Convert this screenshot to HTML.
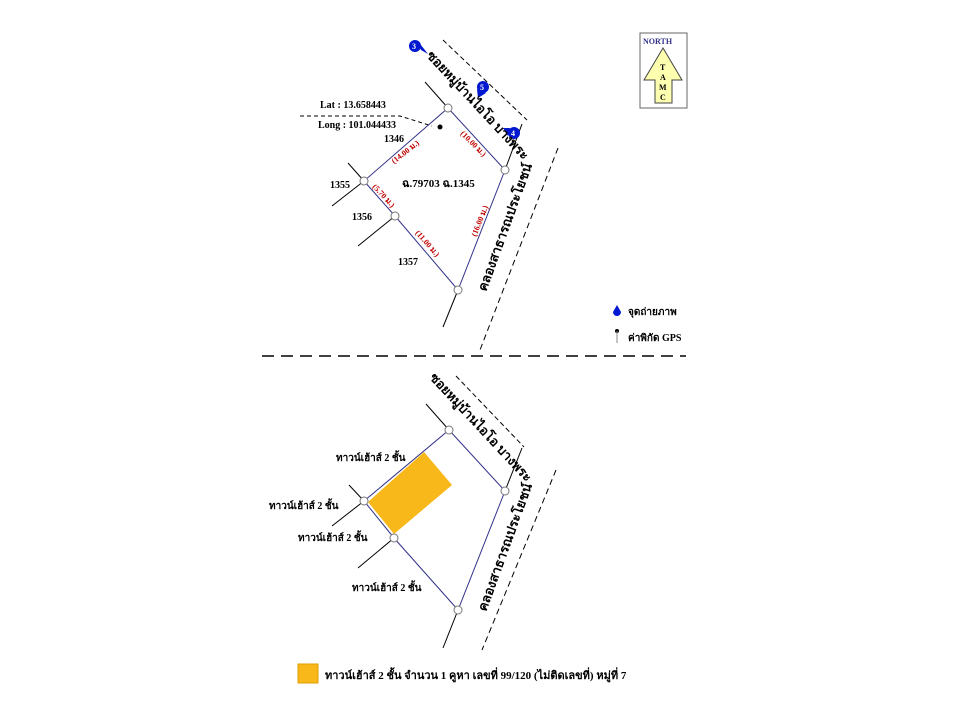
<!DOCTYPE html><html><head><meta charset="utf-8"><style>body{margin:0;background:#fff}svg{display:block}text{font-family:"Liberation Serif","Noto Serif CJK SC","Noto Sans CJK SC",serif;font-weight:bold}</style></head><body>
<svg width="960" height="720" viewBox="0 0 960 720">
<g stroke="#000" stroke-width="1" fill="none">
<line x1="425" y1="82" x2="448" y2="108"/>
<line x1="364" y1="181" x2="348" y2="163"/><line x1="364" y1="181" x2="332" y2="206"/>
<line x1="395" y1="216" x2="358" y2="246"/>
<line x1="458" y1="290" x2="443" y2="327"/>
<line x1="505" y1="170" x2="522" y2="124"/>
<line x1="443" y1="40" x2="527" y2="120" stroke-dasharray="5,3"/>
<line x1="558" y1="148" x2="480" y2="350" stroke-dasharray="6,4"/>
<polyline points="300,116 400,116 432,126" stroke-dasharray="4,3"/>
<line x1="262" y1="356" x2="686" y2="356" stroke-dasharray="12,7" stroke-width="1.5"/>
<line x1="426" y1="404" x2="449" y2="430"/>
<line x1="364" y1="501" x2="349" y2="485"/><line x1="364" y1="501" x2="332" y2="526"/>
<line x1="394" y1="538" x2="358" y2="568"/>
<line x1="458" y1="610" x2="443" y2="648"/>
<line x1="505" y1="491" x2="522" y2="448"/>
<line x1="456" y1="376" x2="524" y2="447" stroke-dasharray="5,3"/>
<line x1="556" y1="470" x2="482" y2="650" stroke-dasharray="6,4"/>
</g>
<g stroke="#33338a" stroke-width="1" fill="none">
<polygon points="448,108 505,170 458,290 395,216 364,181"/>
<polygon points="449,430 505,491 458,610 394,538 364,501"/>
</g>
<polygon points="424,452 452,485 394,534 368,502" fill="#f9b81a"/>
<g fill="#fff" stroke="#777">
<circle cx="448" cy="108" r="4"/><circle cx="505" cy="170" r="4"/><circle cx="458" cy="290" r="4"/><circle cx="395" cy="216" r="4"/><circle cx="364" cy="181" r="4"/>
<circle cx="449" cy="430" r="4"/><circle cx="505" cy="491" r="4"/><circle cx="458" cy="610" r="4"/><circle cx="394" cy="538" r="4"/><circle cx="364" cy="501" r="4"/>
</g>
<circle cx="440" cy="127" r="2.5" fill="#000"/>
<g fill="#0018d0">
<circle cx="415" cy="46" r="6"/><polygon points="417,40 421,50 428,54"/>
<circle cx="483" cy="87" r="6"/><polygon points="477,89 486,93 478,98"/>
<circle cx="514" cy="133" r="6"/><polygon points="510,128 503,128 508,136"/>
</g>
<g fill="#fff" font-size="8"><text x="412" y="49">3</text><text x="480" y="90">5</text><text x="511" y="136">4</text></g>
<g font-size="10" fill="#000">
<text x="320" y="108">Lat :  13.658443</text>
<text x="318" y="128">Long : 101.044433</text>
<text x="384" y="142">1346</text><text x="330" y="188">1355</text><text x="352" y="220">1356</text><text x="398" y="265">1357</text>
<text x="402" y="187" font-size="11">ฉ.79703 ฉ.1345</text>
<text transform="translate(426,56) rotate(47)" font-size="13">ซอยหมู่บ้านไอโอ บางพระ</text>
<text transform="translate(486,292) rotate(-70)" font-size="13">คลองสาธารณประโยชน์</text>
<text transform="translate(429,378) rotate(47)" font-size="13">ซอยหมู่บ้านไอโอ บางพระ</text>
<text transform="translate(486,612) rotate(-70)" font-size="13">คลองสาธารณประโยชน์</text>
<text x="336" y="461">ทาวน์เฮ้าส์ 2 ชั้น</text>
<text x="269" y="509">ทาวน์เฮ้าส์ 2 ชั้น</text>
<text x="298" y="541">ทาวน์เฮ้าส์ 2 ชั้น</text>
<text x="352" y="591">ทาวน์เฮ้าส์ 2 ชั้น</text>
<text x="628" y="315">จุดถ่ายภาพ</text><text x="628" y="341">ค่าพิกัด GPS</text>
<text x="325" y="679" font-size="11">ทาวน์เฮ้าส์  2  ชั้น จำนวน 1 คูหา  เลขที่ 99/120 (ไม่ติดเลขที่) หมู่ที่ 7</text>
</g>
<g font-size="8" fill="#c00000">
<text transform="translate(394,164) rotate(-38)">(14.00 ม.)</text>
<text transform="translate(460,134) rotate(45)">(10.00 ม.)</text>
<text transform="translate(372,187) rotate(47)">(5.70 ม.)</text>
<text transform="translate(415,233) rotate(49)">(11.00 ม.)</text>
<text transform="translate(476,237) rotate(-68)">(16.00 ม.)</text>
</g>
<rect x="298" y="664" width="20" height="19" fill="#f9b81a" stroke="#e0a000"/>
<path d="M617,305 l-4,7 a4,4 0 1 0 8,0 z" fill="#0018d0"/>
<circle cx="617" cy="331" r="2" fill="#000"/><line x1="617" y1="331" x2="617" y2="343" stroke="#888"/>
<rect x="640" y="33" width="47" height="75" fill="#fff" stroke="#666"/>
<text x="643" y="44" font-size="8" fill="#33338a">NORTH</text>
<polygon points="663,48 682,80 672,80 672,103 655,103 655,80 644,80" fill="#ffffb0" stroke="#444"/>
<g font-size="8" fill="#000"><text x="660" y="70">T</text><text x="660" y="80">A</text><text x="659" y="90">M</text><text x="660" y="100">C</text></g>
</svg></body></html>
